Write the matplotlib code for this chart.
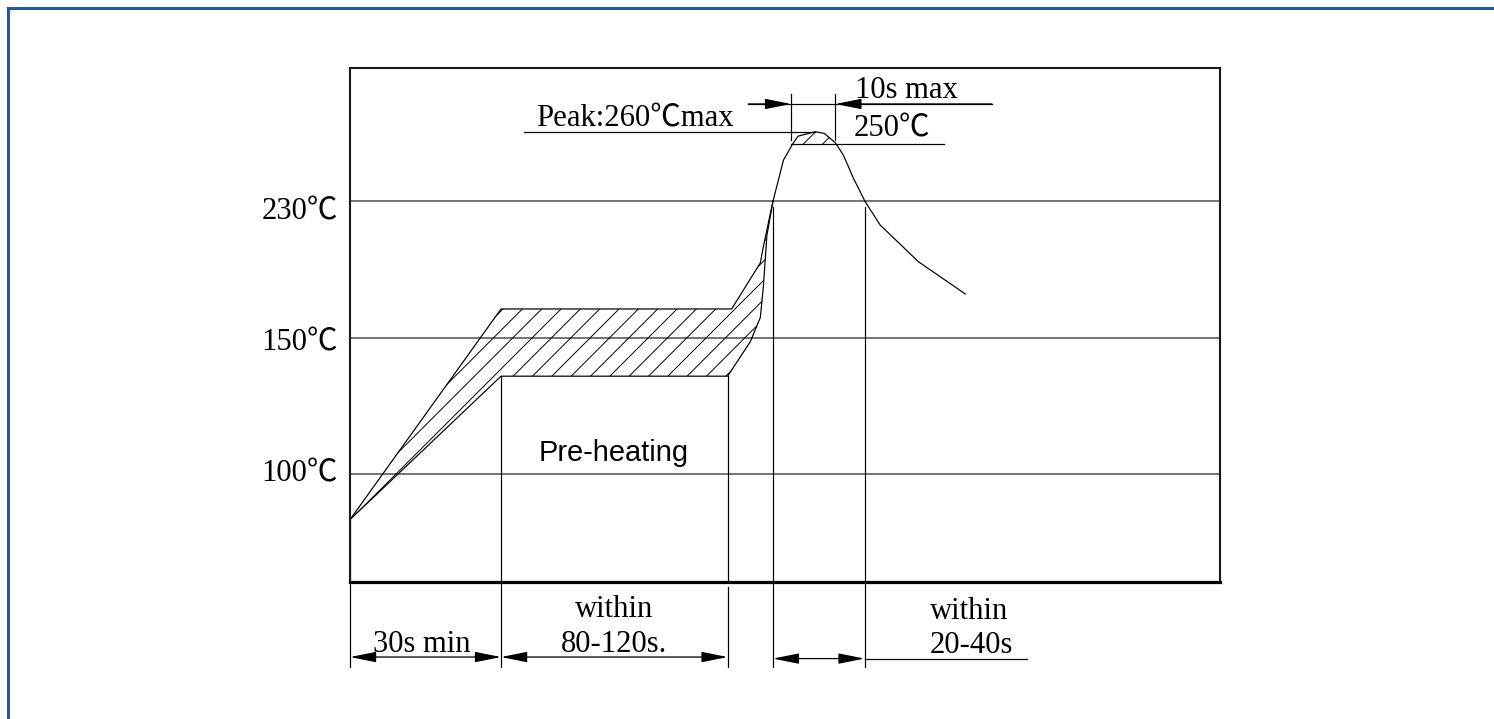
import numpy as np
import matplotlib.pyplot as plt
import matplotlib.transforms as mtransforms
from matplotlib.lines import Line2D

# reflow profile, schematic: time in s, temperature in deg C
upper_t = [0, 30, 75.8, 81.5, 82.1, 84]
upper_T = [79, 167, 167, 194, 203.5, 230]
lower_t = [0, 30, 75, 79.5, 81.5, 82.1, 82.8, 84]
lower_T = [79, 136, 136, 148.6, 162, 180, 210, 230]
curve_t = [84, 86.1, 88.0, 89.0, 92.4, 94.2, 96.4, 98.0, 100.0, 102.3, 105.3, 112.9, 122.2]
curve_T = [230, 244.5, 250.8, 256.5, 260, 258.7, 251.2, 246.2, 238.1, 230, 216.2, 194.7, 175.8]

grid_T = [100, 150, 230]
grid_labels = ['100℃', '150℃', '230℃']
preheat_t = [0, 30, 75]        # 30s min / within 80-120s.
above230_t = [84, 102.2]       # within 20-40s
peak_t = [87.6, 96.4]          # 10s max
peak_T = 260
near_peak_T = 250

# the drawing is not to scale: gridlines are evenly spaced
temp_knots = [50, 100, 150, 230, 250, 260, 300]
level_knots = [0, 0.788, 1.788, 2.788, 3.207, 3.299, 3.766]


def fwd(v):
    return np.interp(v, temp_knots, level_knots)


def inv(v):
    return np.interp(v, level_knots, temp_knots)


serif = ['Liberation Serif', 'Noto Sans CJK JP', 'DejaVu Serif']
plt.rcParams['hatch.linewidth'] = 0.6

DPI = 116
fig = plt.figure(figsize=(1494 / DPI, 719 / DPI), dpi=DPI)
ax = fig.add_axes([350 / 1494, 137 / 719, 870 / 1494, 514 / 719])
ax.set_yscale('function', functions=(fwd, inv))

lw = 0.75
xt = ax.get_xaxis_transform()

# gridlines
for T in grid_T:
    ax.axhline(T, color='#555555', lw=1.0, zorder=1)

# hatched process window
band_x = upper_t + lower_t[::-1]
band_y = upper_T + lower_T[::-1]
ax.fill(band_x, band_y, fill=False, hatch='//', edgecolor='black', linewidth=0)
ax.plot(upper_t, upper_T, color='black', lw=lw)
ax.plot(lower_t, lower_T, color='black', lw=lw)
ax.plot([0, 0], [50, upper_T[0]], color='black', lw=lw)

# peak curve
ax.plot(curve_t, curve_T, color='black', lw=lw)
ct = np.array(curve_t)
cT = np.array(curve_T)
i_max = int(np.argmax(cT))
x_in = np.interp(near_peak_T, cT[:i_max + 1], ct[:i_max + 1])
x_out = np.interp(near_peak_T, cT[i_max:][::-1], ct[i_max:][::-1])
m = cT >= near_peak_T
px = [x_in] + list(ct[m]) + [x_out]
py = [near_peak_T] + list(cT[m]) + [near_peak_T]
ax.fill(px, py, fill=False, hatch='//', edgecolor='black', linewidth=0)

# peak and 250 lines
ax.plot([34.6, peak_t[0] + 4.8], [peak_T, peak_T], color='black', lw=lw)
ax.plot([peak_t[0], 117.9], [near_peak_T, near_peak_T], color='black', lw=lw)
ax.text(37.0, 0.887, 'Peak:260℃max', transform=xt, family=serif, fontsize=19,
        ha='left', va='baseline')
ax.text(100.1, 0.8677, '250℃', transform=xt, family=serif, fontsize=19,
        ha='left', va='baseline')

arrow_style = '-|>,head_length=0.6,head_width=0.12'
both_style = '<|-|>,head_length=0.6,head_width=0.12'


def dim_arrow(x0, x1, y, style):
    ax.annotate('', xy=(x1, y), xytext=(x0, y), xycoords=xt, textcoords=xt,
                arrowprops=dict(arrowstyle=style, color='black', lw=0.8,
                                shrinkA=0, shrinkB=0, mutation_scale=23))


# 10s max dimension
for x in peak_t:
    ax.plot([x, x], [0.949, 0.86], transform=xt, color='black', lw=lw, clip_on=False)
ax.plot([79.1, 127.5], [0.930, 0.930], transform=xt, color='black', lw=lw)
dim_arrow(79.1, peak_t[0], 0.930, arrow_style)
dim_arrow(127.5, peak_t[1], 0.930, arrow_style)
ax.text(100.3, 0.9416, '10s max', transform=xt, family=serif, fontsize=19,
        ha='left', va='baseline')

# extension lines for the bottom dimensions
ax.plot([preheat_t[1]] * 2, [lower_T[1], 50], color='black', lw=lw)
ax.plot([preheat_t[2]] * 2, [lower_T[2], 50], color='black', lw=lw)
for x in above230_t:
    ax.plot([x, x], [227, 50], color='black', lw=lw)
for x in preheat_t[:2] + above230_t:
    ax.plot([x, x], [0, -0.165], transform=xt, color='black', lw=lw, clip_on=False)
ax.plot([preheat_t[2]] * 2, [-0.0097, -0.165], transform=xt, color='black',
        lw=lw, clip_on=False)

y_dim = -0.146
dim_arrow(preheat_t[0], preheat_t[1], y_dim, both_style)
dim_arrow(preheat_t[1], preheat_t[2], y_dim, both_style)
dim_arrow(above230_t[0], above230_t[1], y_dim - 0.003, both_style)
ax.plot([above230_t[1], 134.5], [y_dim - 0.003] * 2, transform=xt, color='black',
        lw=lw, clip_on=False)

ax.text(14.2, -0.1356, '30s min', transform=xt, family=serif, fontsize=19,
        ha='center', va='baseline')
ax.text(52.5, -0.0675, 'within', transform=xt, family=serif, fontsize=19,
        ha='center', va='baseline')
ax.text(52.5, -0.1356, '80-120s.', transform=xt, family=serif, fontsize=19,
        ha='center', va='baseline')
ax.text(115.2, -0.0726, 'within', transform=xt, family=serif, fontsize=19,
        ha='left', va='baseline')
ax.text(115.2, -0.138, '20-40s', transform=xt, family=serif, fontsize=19,
        ha='left', va='baseline')

ax.text(52.4, 105, 'Pre-heating', family='Liberation Sans', fontsize=18,
        ha='center', va='baseline')

# temperature labels sit a little below their gridlines
label_drop_pt = [4.5, 7.6, 11.0]
yt = ax.get_yaxis_transform()
for T, lab, d in zip(grid_T, grid_labels, label_drop_pt):
    tr = mtransforms.offset_copy(yt, fig=fig, x=0, y=-d, units='points')
    ax.text(-0.0138, T, lab, transform=tr, family=serif, fontsize=19,
            ha='right', va='baseline')

ax.set_xlim(0, 172.8)
ax.set_ylim(50, 300)
ax.set_xticks([])
ax.set_yticks([])
ax.minorticks_off()
for side in ['left', 'top', 'right']:
    ax.spines[side].set_linewidth(1.3)
    ax.spines[side].set_color('#1a1a1a')
ax.spines['bottom'].set_linewidth(2.0)
ax.spines['bottom'].set_color('black')

# blue frame of the page
fx = 8 / 1494
fy = 1 - 7.5 / 719
fig.add_artist(Line2D([fx, 1], [fy, fy], transform=fig.transFigure, color='#1a5caa', lw=1.9))
fig.add_artist(Line2D([fx, fx], [0, fy], transform=fig.transFigure, color='#1a5caa', lw=1.9))

fig.savefig('out.png', dpi=DPI)
